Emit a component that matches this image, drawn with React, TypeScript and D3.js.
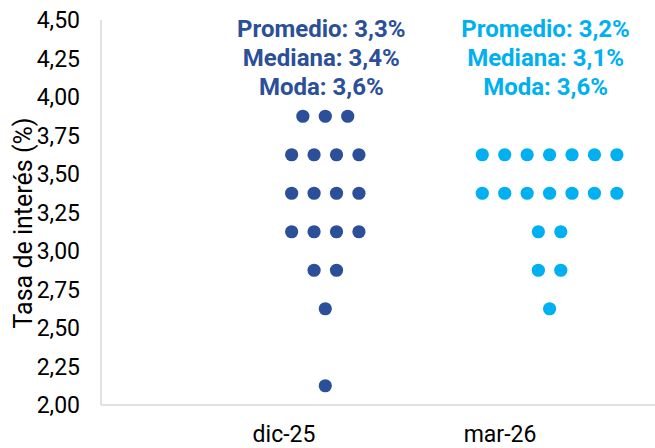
import React, { useEffect, useRef } from "react";
import * as d3 from "d3";

// categories and survey answers (count of answers at each rate level)
const categories = ["dic-25", "mar-26"];
const rateLevels = [2.125, 2.375, 2.625, 2.875, 3.125, 3.375, 3.625, 3.875];
const dic25Counts = [1, 0, 1, 2, 4, 4, 4, 3];
const mar26Counts = [0, 0, 1, 2, 2, 7, 7, 0];
const yTicks = [2.0, 2.25, 2.5, 2.75, 3.0, 3.25, 3.5, 3.75, 4.0, 4.25, 4.5];
const statLines = [
  ["Promedio: 3,3%", "Mediana: 3,4%", "Moda: 3,6%"],
  ["Promedio: 3,2%", "Mediana: 3,1%", "Moda: 3,6%"],
];
const colors = ["#2b4f98", "#00b0f0"];

const App = () => {
  const svgRef = useRef<SVGSVGElement | null>(null);

  useEffect(() => {
    if (!svgRef.current) return;
    const width = 655;
    const height = 448;
    const font = "Roboto, sans-serif";

    const svg = d3.select(svgRef.current);
    svg.selectAll("*").remove();

    const y = d3.scaleLinear().domain([2, 4.5]).range([405, 20]);
    const x = d3.scaleLinear().domain([0, 2.47]).range([101, 655]);
    // category labels sit a bit left of the dot columns
    const xLab = d3.scalePoint().domain(categories).range([284, 500]);
    const step = 0.1;

    // axis lines
    svg
      .append("line")
      .attr("x1", x(0))
      .attr("x2", x(0))
      .attr("y1", y(4.5))
      .attr("y2", y(2))
      .attr("stroke", "#d9d9d9")
      .attr("stroke-width", 1.5);
    svg
      .append("line")
      .attr("x1", x(0))
      .attr("x2", width)
      .attr("y1", y(2))
      .attr("y2", y(2))
      .attr("stroke", "#d9d9d9")
      .attr("stroke-width", 1.5);

    // y tick labels
    svg
      .selectAll("text.ytick")
      .data(yTicks)
      .enter()
      .append("text")
      .attr("class", "ytick")
      .attr("x", 80)
      .attr("y", (d) => y(d))
      .attr("dy", "0.35em")
      .attr("text-anchor", "end")
      .attr("font-family", font)
      .attr("font-size", 23)
      .attr("fill", "#000")
      .text((d) => d3.format(".2f")(d).replace(".", ","));

    // y title
    svg
      .append("text")
      .attr("transform", `translate(32,223) rotate(-90)`)
      .attr("text-anchor", "middle")
      .attr("font-family", font)
      .attr("font-size", 25)
      .attr("fill", "#000")
      .text("Tasa de interés (%)");

    // x labels
    svg
      .selectAll("text.xlab")
      .data(categories)
      .enter()
      .append("text")
      .attr("class", "xlab")
      .attr("x", (d) => xLab(d) as number)
      .attr("y", 442)
      .attr("text-anchor", "middle")
      .attr("font-family", font)
      .attr("font-size", 23)
      .attr("fill", "#000")
      .text((d) => d);

    // dots
    const dots: { cx: number; cy: number; s: number }[] = [];
    [dic25Counts, mar26Counts].forEach((counts, s) => {
      counts.forEach((n, k) => {
        for (let j = 0; j < n; j++) {
          dots.push({
            cx: s + 1 + (j - (n - 1) / 2) * step,
            cy: rateLevels[k],
            s,
          });
        }
      });
    });
    svg
      .selectAll("circle")
      .data(dots)
      .enter()
      .append("circle")
      .attr("cx", (d) => x(d.cx))
      .attr("cy", (d) => y(d.cy))
      .attr("r", 6.6)
      .attr("fill", (d) => colors[d.s]);

    // stats annotations
    statLines.forEach((lines, s) => {
      svg
        .append("g")
        .selectAll("text")
        .data(lines)
        .enter()
        .append("text")
        .attr("x", x(s + 1) - 4)
        .attr("y", (d, i) => 37 + i * 29)
        .attr("text-anchor", "middle")
        .attr("font-family", font)
        .attr("font-weight", "bold")
        .attr("font-size", 24)
        .attr("fill", colors[s])
        .text((d) => d);
    });

    svg.attr("width", width).attr("height", height);
  }, []);

  return (
    <svg
      ref={svgRef}
      width={655}
      height={448}
      style={{ position: "absolute", left: 0, top: 0, background: "#fff" }}
    ></svg>
  );
};

export default App;
